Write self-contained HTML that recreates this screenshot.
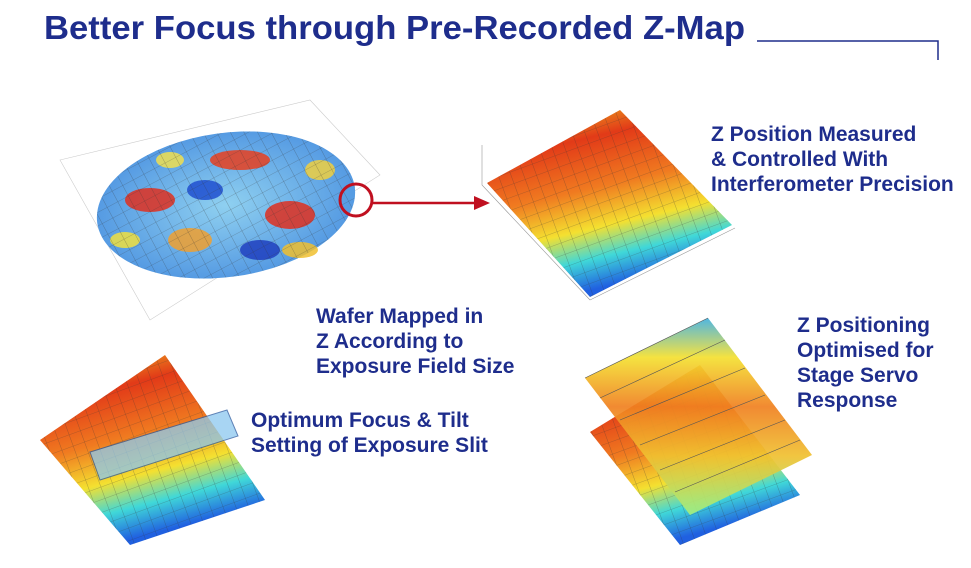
<!DOCTYPE html>
<html><head><meta charset="utf-8"><style>
body{margin:0;width:971px;height:568px;background:#fff;overflow:hidden;position:relative;font-family:"Liberation Sans",Arial,sans-serif}
.t{position:absolute;color:#1e2d8c;font-weight:bold;font-size:21px;line-height:25px;white-space:nowrap}
</style></head><body>
<svg width="971" height="568" style="position:absolute;left:0;top:0">
<defs>
<linearGradient id="g1" x1="0" y1="0" x2="0.3" y2="1">
<stop offset="0" stop-color="#f0d020"/><stop offset="0.25" stop-color="#e23a18"/><stop offset="0.5" stop-color="#f07a20"/><stop offset="0.7" stop-color="#f4e030"/><stop offset="0.85" stop-color="#40d8d8"/><stop offset="1" stop-color="#2060e0"/></linearGradient>
<linearGradient id="g2" x1="0" y1="0" x2="0" y2="1">
<stop offset="0" stop-color="#40b0e0"/><stop offset="0.2" stop-color="#f4e030"/><stop offset="0.45" stop-color="#f08020"/><stop offset="0.7" stop-color="#f0c030"/><stop offset="1" stop-color="#a0f080"/></linearGradient>
<pattern id="grid" width="12" height="12" patternUnits="userSpaceOnUse" patternTransform="rotate(-20)"><path d="M0 0H12M0 0V12" stroke="#333" stroke-width="0.6" fill="none" opacity="0.6"/></pattern>
<radialGradient id="wb" cx="0.5" cy="0.5" r="0.6"><stop offset="0" stop-color="#8fd0f0"/><stop offset="1" stop-color="#4a90e0"/></radialGradient>
</defs>
<text x="44" y="39" font-family="Liberation Sans,Arial" font-weight="bold" font-size="33" fill="#1e2d8c" textLength="701" lengthAdjust="spacingAndGlyphs">Better Focus through Pre-Recorded Z-Map</text>
<path d="M757 41H938V60" stroke="#1e2d8c" stroke-width="1.5" fill="none"/>
<g>
<path d="M60 160L310 100L380 175L150 320Z" fill="none" stroke="#ccc" stroke-width="0.6"/>
<ellipse cx="226" cy="205" rx="130" ry="72" transform="rotate(-8 226 205)" fill="url(#wb)"/>
<g opacity="0.85">
<ellipse cx="150" cy="200" rx="25" ry="12" fill="#e03020"/><ellipse cx="190" cy="240" rx="22" ry="12" fill="#f0a030"/>
<ellipse cx="240" cy="160" rx="30" ry="10" fill="#e84020"/><ellipse cx="290" cy="215" rx="25" ry="14" fill="#e03020"/>
<ellipse cx="320" cy="170" rx="15" ry="10" fill="#f0d040"/><ellipse cx="260" cy="250" rx="20" ry="10" fill="#2040c0"/>
<ellipse cx="205" cy="190" rx="18" ry="10" fill="#2050d0"/><ellipse cx="125" cy="240" rx="15" ry="8" fill="#f0e040"/>
<ellipse cx="300" cy="250" rx="18" ry="8" fill="#f0c030"/><ellipse cx="170" cy="160" rx="14" ry="8" fill="#f0e050"/>
</g>
<ellipse cx="226" cy="205" rx="130" ry="72" transform="rotate(-8 226 205)" fill="url(#grid)"/>
<circle cx="356" cy="200" r="16" fill="none" stroke="#c01020" stroke-width="3"/>
<path d="M372 203L478 203" stroke="#c01020" stroke-width="2.5"/><path d="M490 203L474 196L474 210Z" fill="#c01020"/>
</g>
<path d="M487 183L620 110L732 225L590 297Z" fill="url(#g1)"/>
<path d="M487 183L620 110L732 225L590 297Z" fill="url(#grid)"/>
<path d="M482 145V185L590 300M590 300L735 228" stroke="#999" stroke-width="0.6" fill="none"/>
<path d="M40 440L165 355L265 500L130 545Z" fill="url(#g1)"/>
<path d="M40 440L165 355L265 500L130 545Z" fill="url(#grid)"/>
<path d="M90 452L227 410L238 436L100 480Z" fill="#8cc8f0" opacity="0.75" stroke="#2a5aa0"/>
<path d="M590 432L700 365L800 495L680 545Z" fill="url(#g1)"/>
<path d="M590 432L700 365L800 495L680 545Z" fill="url(#grid)"/>
<path d="M585 378L708 318L812 455L690 515Z" fill="url(#g2)" opacity="0.92"/>
<path d="M585 378L708 318M600 398L725 340M620 420L745 368M640 445L765 395M660 470L785 420M675 492L800 440" stroke="#555" stroke-width="0.6" fill="none"/>
</svg>
<div class="t" style="left:711px;top:122px">Z Position Measured<br>&amp; Controlled With<br>Interferometer Precision</div>
<div class="t" style="left:316px;top:304px">Wafer Mapped in<br>Z According to<br>Exposure Field Size</div>
<div class="t" style="left:797px;top:313px">Z Positioning<br>Optimised for<br>Stage Servo<br>Response</div>
<div class="t" style="left:251px;top:408px">Optimum Focus &amp; Tilt<br>Setting of Exposure Slit</div>
</body></html>
